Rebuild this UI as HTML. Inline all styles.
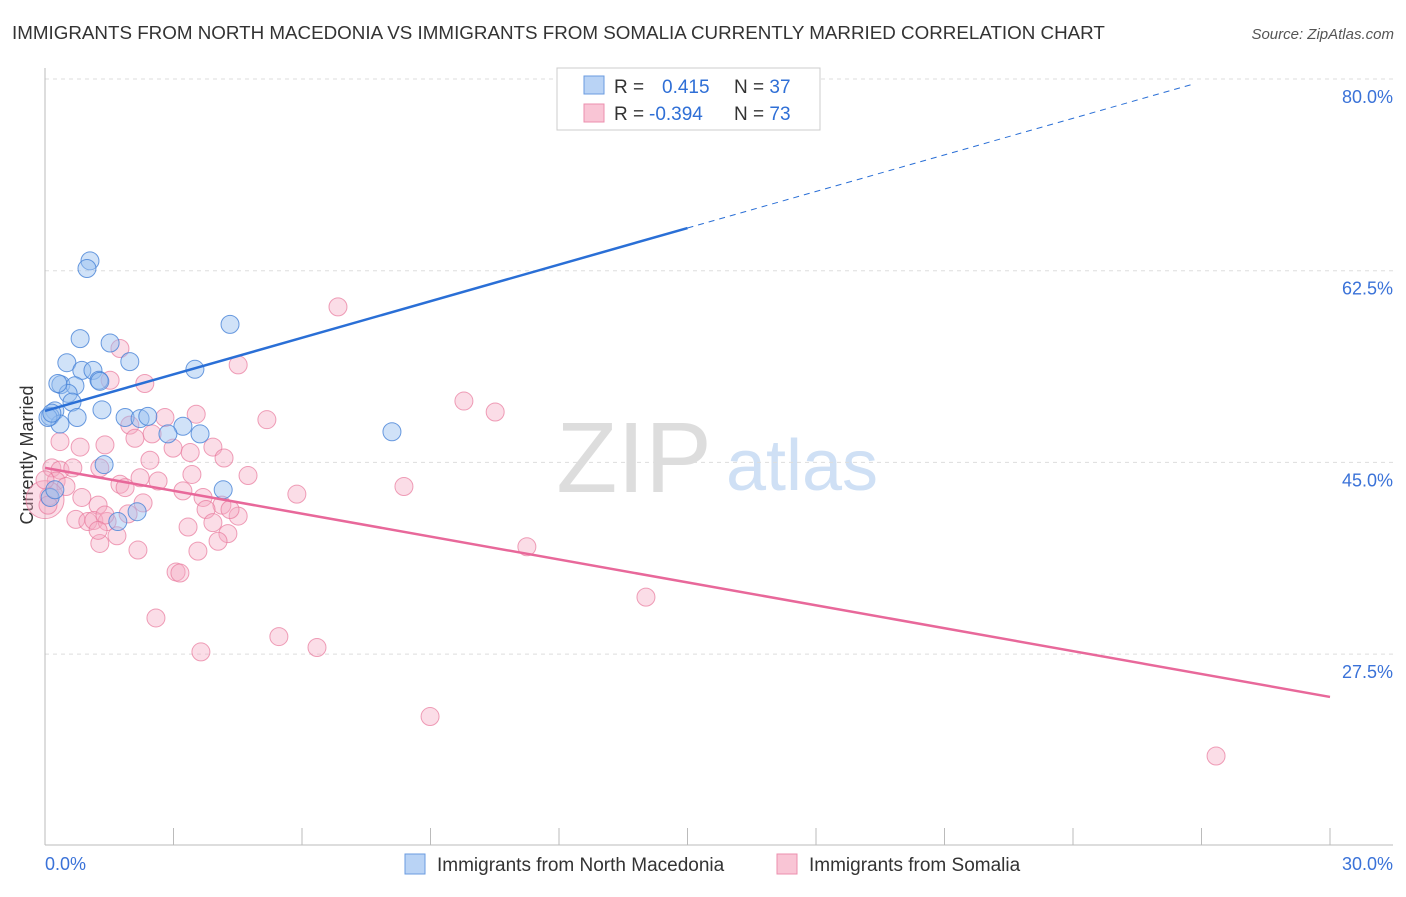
<!DOCTYPE html>
<html><head><meta charset="utf-8"><style>
body{margin:0;background:#fff;font-family:"Liberation Sans",sans-serif;}
svg text{font-family:"Liberation Sans",sans-serif;}
</style></head><body>
<svg id="chart" width="1406" height="892">
<text x="12" y="39" font-size="18.8" fill="#333">IMMIGRANTS FROM NORTH MACEDONIA VS IMMIGRANTS FROM SOMALIA CURRENTLY MARRIED CORRELATION CHART</text>
<text x="1394" y="39" font-size="15" fill="#555" font-style="italic" text-anchor="end">Source: ZipAtlas.com</text>
<text x="634" y="492" font-size="100" fill="#ddd" font-family="Liberation Serif" text-anchor="middle">ZIP</text>
<text x="802" y="490" font-size="72" fill="#cfe0f5" text-anchor="middle">atlas</text>
<text transform="translate(33,455) rotate(-90)" font-size="18" fill="#333" text-anchor="middle">Currently Married</text>
<g id="grid"></g><g id="pts"></g><g id="lines"></g>
<rect x="557" y="68" width="263" height="62" fill="#fff" stroke="#ccc"/>
<rect x="584" y="76" width="20" height="18" fill="#b9d3f5" stroke="#6a9be0"/>
<rect x="584" y="104" width="20" height="18" fill="#f9c5d5" stroke="#ec8fae"/>
<text x="614" y="93" font-size="19" fill="#333">R = <tspan x="662" fill="#2f6fd6">0.415</tspan><tspan x="734" fill="#333">N = </tspan><tspan fill="#2f6fd6">37</tspan></text>
<text x="614" y="120" font-size="19" fill="#333">R = <tspan x="649" fill="#2f6fd6">-0.394</tspan><tspan x="734" fill="#333">N = </tspan><tspan fill="#2f6fd6">73</tspan></text>
<rect x="405" y="854" width="20" height="20" fill="#b9d3f5" stroke="#6a9be0"/>
<text x="437" y="871" font-size="19" fill="#333">Immigrants from North Macedonia</text>
<rect x="777" y="854" width="20" height="20" fill="#f9c5d5" stroke="#ec8fae"/>
<text x="809" y="871" font-size="19" fill="#333">Immigrants from Somalia</text>
<text x="45" y="870" font-size="18" fill="#3a72d8">0.0%</text>
<text x="1393" y="870" font-size="18" fill="#3a72d8" text-anchor="end">30.0%</text>
</svg>
<script>
const yTicks=[80,62.5,45,27.5];
const blueX=[1.05,0.98,0.82,4.32,1.52,0.51,1.98,3.50,0.86,1.12,1.26,0.37,0.70,0.54,0.63,1.33,0.23,0.12,0.35,0.75,1.87,2.22,2.40,3.22,2.87,3.62,8.10,1.38,4.16,2.15,1.70,0.12,0.23,0.07,0.16,1.28,0.30];
const blueY=[63.4,62.7,56.3,57.6,55.9,54.1,54.2,53.5,53.4,53.4,52.5,52.1,52.0,51.3,50.5,49.8,49.7,49.2,48.5,49.1,49.1,49.0,49.2,48.3,47.6,47.6,47.8,44.8,42.5,40.5,39.6,41.8,42.5,49.1,49.5,52.4,52.2];
const pinkX=[6.84,1.75,4.51,1.52,2.33,5.18,9.78,10.51,3.53,2.80,1.98,2.50,2.10,0.82,1.40,2.99,3.39,3.92,4.18,2.45,0.16,0.35,0.65,1.28,3.43,4.74,1.75,2.22,2.64,8.38,5.88,3.22,0.26,0.49,0.86,1.24,1.87,3.69,4.13,2.29,4.51,3.76,0.09,0.0,0.72,1.00,1.14,1.45,1.94,3.34,3.92,4.27,1.68,1.28,2.17,4.04,3.57,11.25,3.06,3.15,14.03,2.59,5.46,3.64,6.35,8.99,27.34,0.35,0.0,1.40,1.24,0.07,4.32];
const pinkY=[59.2,55.4,53.9,52.5,52.2,48.9,50.6,49.6,49.4,49.1,48.4,47.6,47.2,46.4,46.6,46.3,45.9,46.4,45.4,45.2,44.5,44.3,44.5,44.5,43.9,43.8,43.0,43.6,43.3,42.8,42.1,42.4,43.3,42.8,41.8,41.1,42.7,41.8,41.1,41.3,40.1,40.7,41.9,41.6,39.8,39.6,39.7,39.6,40.3,39.1,39.5,38.5,38.3,37.6,37.0,37.8,36.9,37.3,35.0,34.9,32.7,30.8,29.1,27.7,28.1,21.8,18.2,46.9,43.4,40.2,38.8,41.1,40.7];
const blueTrend=[49.7,1.113];
const blueTrendX=[0,15,26.8];
const pinkTrend=[44.5,-0.697];
const pinkTrendX=[0,30];
const NS="http://www.w3.org/2000/svg";
const X=v=>45+v/30*1285;
const Y=v=>79+(80-v)/17.5*191.7;
function mk(tag,attrs,parent){const e=document.createElementNS(NS,tag);for(const k in attrs)e.setAttribute(k,attrs[k]);document.getElementById(parent).appendChild(e);return e;}
yTicks.forEach(t=>{
 const l=mk('line',{x1:45,x2:1393,y1:Y(t),y2:Y(t),stroke:'#ddd','stroke-dasharray':'4,4'},'grid');
 
 
 const tx=mk('text',{x:1393,y:Y(t)+24,'font-size':18,fill:'#3a72d8','text-anchor':'end'},'grid');
 tx.textContent=t.toFixed(1)+'%';
 
 
});
const ax=mk('line',{x1:45,x2:45,y1:68,y2:845,stroke:'#bbb'},'grid');


const bx=mk('line',{x1:45,x2:1393,y1:845,y2:845,stroke:'#bbb'},'grid');


for(let i=0;i<=10;i++){
 const tk=mk('line',{x1:X(i*3),x2:X(i*3),y1:828,y2:845,stroke:'#bbb'},'grid');
 
 
}
pinkX.forEach((x,i)=>{
 const c=mk('circle',{cx:X(x),cy:Y(pinkY[i]),r:(i===43?19:9),fill:'rgba(246,170,195,0.4)',stroke:'rgba(232,120,155,0.7)','stroke-width':1},'pts');
 
 
});
blueX.forEach((x,i)=>{
 const c=mk('circle',{cx:X(x),cy:Y(blueY[i]),r:9,fill:'rgba(150,190,240,0.45)',stroke:'rgba(70,130,215,0.8)','stroke-width':1},'pts');
 
 
});
const bt=v=>blueTrend[0]+blueTrend[1]*v;
const b1=mk('line',{x1:X(blueTrendX[0]),y1:Y(bt(blueTrendX[0])),x2:X(blueTrendX[1]),y2:Y(bt(blueTrendX[1])),stroke:'#2a6fd6','stroke-width':2.5},'lines');


const b2=mk('line',{x1:X(blueTrendX[1]),y1:Y(bt(blueTrendX[1])),x2:X(blueTrendX[2]),y2:Y(bt(blueTrendX[2])),stroke:'#2a6fd6','stroke-width':1,'stroke-dasharray':'6,5'},'lines');


const pt=v=>pinkTrend[0]+pinkTrend[1]*v;
const p1=mk('line',{x1:X(pinkTrendX[0]),y1:Y(pt(pinkTrendX[0])),x2:X(pinkTrendX[1]),y2:Y(pt(pinkTrendX[1])),stroke:'#e8689a','stroke-width':2.5},'lines');


</script>
</body></html>
